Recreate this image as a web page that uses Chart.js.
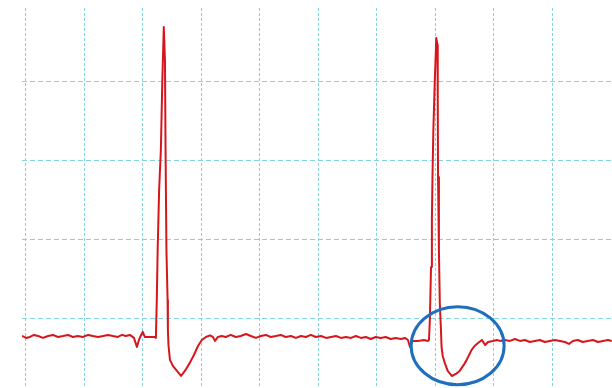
<!DOCTYPE html>
<html>
<head>
<meta charset="utf-8">
<title>ECG trace</title>
<script src="https://cdn.jsdelivr.net/npm/chart.js@4.4.1/dist/chart.umd.min.js"></script>
<style>
  html, body { margin: 0; padding: 0; background: #fff; }
  #wrap { width: 612px; height: 388px; }
</style>
</head>
<body>
<div id="wrap"><canvas id="ecgChart" width="612" height="388"></canvas></div>
<script>
// lead trace: time in ms, amplitude in mV
const timeMs = [
  -13, 1, 14, 28, 42, 59, 76, 93, 110, 127, 144, 161, 178, 195, 213, 230, 247, 264, 281, 298,
  315, 329, 342, 356, 370, 380, 387, 393, 400, 407, 424, 441,
  // first beat
  445, 448, 451, 456, 462, 467, 472, 476, 478, 481, 485, 486, 488, 493, 503, 517, 531, 544,
  561, 575, 589, 602, 616, 630, 640, 647, 657, 670,
  684, 701, 718, 735, 753, 770, 787, 804, 821, 838, 855, 872, 889, 907, 924, 941, 958, 975,
  992, 1010, 1027, 1044, 1061, 1078, 1095, 1112, 1129, 1146, 1163, 1180, 1197, 1214, 1231,
  1248, 1265, 1283, 1297, 1307, 1314, 1321, 1341, 1362, 1375,
  // second beat
  1379, 1382, 1386, 1389, 1391, 1394, 1399, 1404, 1408, 1409, 1410, 1413, 1416, 1420, 1422,
  1426, 1433, 1443, 1457, 1471, 1484, 1498, 1508, 1518, 1525, 1535, 1547, 1560, 1571, 1581,
  1598, 1611, 1622,
  1639, 1656, 1673, 1690, 1707, 1724, 1741, 1758, 1775, 1792, 1810, 1827, 1844, 1858, 1871,
  1888, 1905, 1922, 1940, 1957, 1974, 1991, 2004
];
const leadMv = [
  -0.108, -0.120, -0.114, -0.101, -0.108, -0.120, -0.108, -0.101, -0.114, -0.108, -0.101, -0.114, -0.108, -0.114, -0.101, -0.108, -0.114, -0.108, -0.101, -0.108,
  -0.114, -0.101, -0.108, -0.101, -0.120, -0.177, -0.133, -0.108, -0.082, -0.114, -0.114, -0.114,
  -0.120, 0.120, 0.437, 0.816, 1.070, 1.513, 1.848, 1.639, 1.070, 0.437, 0.120, -0.070, -0.165, -0.259, -0.297, -0.329, -0.361, -0.329,
  -0.278, -0.228, -0.171, -0.133, -0.114, -0.104, -0.114, -0.139, -0.114, -0.108,
  -0.114, -0.101, -0.114, -0.108, -0.095, -0.108, -0.120, -0.108, -0.101, -0.114, -0.108, -0.101, -0.114, -0.108, -0.120, -0.108, -0.114, -0.101,
  -0.114, -0.108, -0.120, -0.114, -0.108, -0.120, -0.114, -0.120, -0.108, -0.120, -0.114, -0.127, -0.114, -0.120, -0.114,
  -0.127, -0.120, -0.127, -0.120, -0.133, -0.177, -0.139, -0.139, -0.133, -0.139,
  -0.133, -0.006, 0.329, 0.627, 0.899, 1.196, 1.513, 1.778, 1.734, 1.386, 0.899, 0.437, 0.101, -0.070, -0.177,
  -0.234, -0.278, -0.329, -0.361, -0.348, -0.329, -0.291, -0.259, -0.222, -0.196, -0.171, -0.152, -0.133, -0.165, -0.146,
  -0.139, -0.133, -0.139,
  -0.133, -0.139, -0.127, -0.139, -0.133, -0.146, -0.139, -0.133, -0.146, -0.139, -0.133, -0.139, -0.146, -0.158, -0.139,
  -0.133, -0.146, -0.139, -0.133, -0.146, -0.139, -0.133, -0.139
];

// paper grid, one big box = 200 ms x 0.5 mV
const gridMs = [0, 200, 400, 600, 800, 1000, 1200, 1400, 1600, 1800];
const gridMv = [0, 0.5, 1.0, 1.5];

// visible window
const windowMs = [-13, 2005];
const windowMv = [-0.437, 1.968];

// circled T wave after the second beat (center, half-width, half-height)
const markCenter = [1477, -0.169];
const markRadius = [159, 0.247];

const gridColor = '#86d4db';

// blue ring drawn over the trace
const ellipseMark = {
  id: 'ellipseMark',
  afterDatasetsDraw(chart) {
    const { ctx, scales: { x, y } } = chart;
    const cx = x.getPixelForValue(markCenter[0]);
    const cy = y.getPixelForValue(markCenter[1]);
    const rx = x.getPixelForValue(markCenter[0] + markRadius[0]) - cx;
    const ry = cy - y.getPixelForValue(markCenter[1] + markRadius[1]);
    ctx.save();
    ctx.beginPath();
    ctx.ellipse(cx, cy, rx, ry, 0, 0, Math.PI * 2);
    ctx.lineWidth = 3;
    ctx.strokeStyle = '#1f6fbf';
    ctx.stroke();
    ctx.restore();
  }
};

new Chart(document.getElementById('ecgChart'), {
  type: 'line',
  data: {
    datasets: [{
      data: timeMs.map((t, i) => ({ x: t, y: leadMv[i] })),
      borderColor: '#d7161c',
      borderWidth: 2,
      borderJoinStyle: 'round',
      pointRadius: 0,
      tension: 0
    }]
  },
  options: {
    responsive: false,
    animation: false,
    layout: { padding: { left: 22, top: 8, right: 0, bottom: 0 } },
    plugins: { legend: { display: false }, tooltip: { enabled: false } },
    scales: {
      x: {
        type: 'linear',
        min: windowMs[0],
        max: windowMs[1],
        afterBuildTicks: s => { s.ticks = gridMs.map(v => ({ value: v })); },
        ticks: { display: false },
        grid: { color: gridColor, lineWidth: 1, drawTicks: false },
        border: { display: false, dash: [3, 2] }
      },
      y: {
        type: 'linear',
        min: windowMv[0],
        max: windowMv[1],
        afterBuildTicks: s => { s.ticks = gridMv.map(v => ({ value: v })); },
        ticks: { display: false },
        grid: { color: gridColor, lineWidth: 1, drawTicks: false },
        border: { display: false, dash: [5, 3] }
      }
    }
  },
  plugins: [ellipseMark]
});
</script>
</body>
</html>
